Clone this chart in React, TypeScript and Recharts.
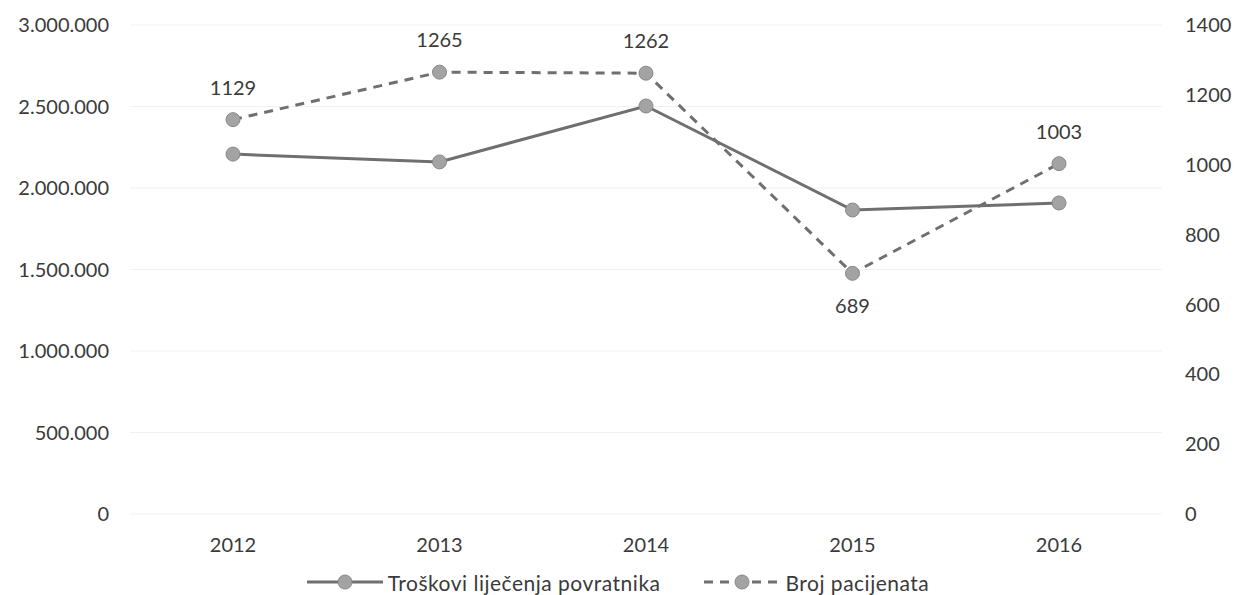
import { LineChart, Line, XAxis, YAxis, CartesianGrid, Legend } from 'recharts';

const years = ['2012', '2013', '2014', '2015', '2016'];
const troskovi = [2208000, 2160000, 2503000, 1865000, 1908000];
const pacijenti = [1129, 1265, 1262, 689, 1003];
const leftTicks = [0, 500000, 1000000, 1500000, 2000000, 2500000, 3000000];
const rightTicks = [0, 200, 400, 600, 800, 1000, 1200, 1400];

const data = years.map((year, i) => ({ year, troskovi: troskovi[i], pacijenti: pacijenti[i] }));

const FONT = 'Lato, "Open Sans", sans-serif';
const TEXT = '#3a3a3a';
const LINE = '#6f6f6f';
const DOT = '#a3a3a3';

const fmt = (v: number) => String(v).replace(/\B(?=(\d{3})+(?!\d))/g, '.');

const PatientLabel = (props: any) => {
    const { x, y, value, index } = props;
    // the 2015 dip has its label under the point
    const dy = index === 3 ? 35 : -30;
    return (
        <text x={x} y={y + dy} textAnchor="middle" dominantBaseline="middle" fontSize={20} fill={TEXT} fontFamily={FONT}>
            {value}
        </text>
    );
};

const LegendIcon = ({ dashed }: { dashed?: boolean }) => (
    <svg width={76} height={16} style={{ marginRight: 5 }}>
        <line x1={0} y1={8} x2={76} y2={8} stroke={LINE} strokeWidth={3} strokeDasharray={dashed ? '9 7' : undefined} />
        <circle cx={38} cy={8} r={7} fill={DOT} stroke="#888" strokeWidth={1} />
    </svg>
);

const ChartLegend = () => (
    <div style={{ display: 'flex', justifyContent: 'center', alignItems: 'center', height: 26, fontFamily: FONT, fontSize: 21, letterSpacing: 0.5, color: TEXT }}>
        <div style={{ display: 'flex', alignItems: 'center', marginRight: 44 }}>
            <LegendIcon />
            <span>Troškovi liječenja povratnika</span>
        </div>
        <div style={{ display: 'flex', alignItems: 'center' }}>
            <LegendIcon dashed />
            <span>Broj pacijenata</span>
        </div>
    </div>
);

export default function App() {
    return (
        <div style={{ position: 'absolute', left: 0, top: 0, background: '#fff' }}>
            <LineChart width={1236} height={595} data={data} margin={{ top: 25, right: 0, bottom: 0, left: 0 }}>
                <CartesianGrid yAxisId="left" vertical={false} stroke="#f1f1f1" />
                <XAxis dataKey="year" axisLine={false} tickLine={false} height={55} tickMargin={18}
                    padding={{ left: 103, right: 103 }} tick={{ fontSize: 20, fill: TEXT, fontFamily: FONT }} />
                <YAxis yAxisId="left" domain={[0, 3000000]} ticks={leftTicks} width={130} axisLine={false} tickLine={false}
                    tickMargin={15} tickFormatter={fmt} tick={{ fontSize: 20, fill: TEXT, fontFamily: FONT }} />
                <YAxis yAxisId="right" orientation="right" domain={[0, 1400]} ticks={rightTicks} width={74} axisLine={false}
                    tickLine={false} tickMargin={17} tick={{ fontSize: 20, fill: TEXT, fontFamily: FONT, textAnchor: 'start' }} />
                <Legend verticalAlign="bottom" content={<ChartLegend />} />
                <Line yAxisId="left" type="linear" dataKey="troskovi" stroke={LINE} strokeWidth={3}
                    dot={{ r: 7, fill: DOT, stroke: '#888', strokeWidth: 1 }} isAnimationActive={false} />
                <Line yAxisId="right" type="linear" dataKey="pacijenti" stroke={LINE} strokeWidth={3} strokeDasharray="9 7"
                    dot={{ r: 7, fill: DOT, stroke: '#888', strokeWidth: 1, strokeDasharray: '' }} label={<PatientLabel />}
                    isAnimationActive={false} />
            </LineChart>
        </div>
    );
}
